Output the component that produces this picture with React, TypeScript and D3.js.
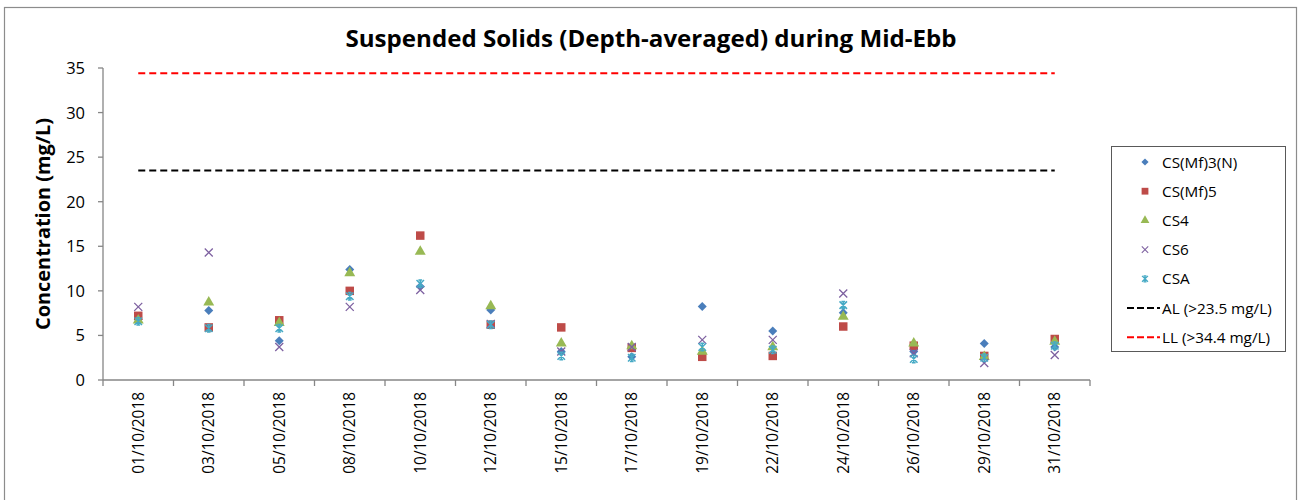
import React from "react";
import * as d3 from "d3";

const dates = ["01/10/2018","03/10/2018","05/10/2018","08/10/2018","10/10/2018","12/10/2018","15/10/2018","17/10/2018","19/10/2018","22/10/2018","24/10/2018","26/10/2018","29/10/2018","31/10/2018"];
const csMf3N = [6.8, 7.8, 4.4, 12.4, 10.5, 7.85, 3.2, 2.6, 8.25, 5.5, 7.55, 3.2, 4.1, 3.7];
const csMf5 = [7.2, 5.9, 6.7, 10.0, 16.2, 6.2, 5.9, 3.6, 2.6, 2.7, 6.0, 3.85, 2.7, 4.6];
const cs4 = [6.7, 8.7, 6.4, 12.0, 14.4, 8.3, 4.1, 3.8, 3.2, 3.7, 7.1, 4.1, 2.6, 4.3];
const cs6 = [8.2, 14.3, 3.7, 8.2, 10.1, 6.3, 3.2, 3.7, 4.5, 4.5, 9.7, 3.0, 1.9, 2.8];
const csa = [6.6, 5.8, 5.8, 9.4, 10.8, 6.2, 2.7, 2.5, 3.7, 3.4, 8.4, 2.35, 2.5, 3.85];
const alLimit = 23.5;
const llLimit = 34.4;
const yTicks = [0, 5, 10, 15, 20, 25, 30, 35];
const seriesNames = ["CS(Mf)3(N)", "CS(Mf)5", "CS4", "CS6", "CSA"];
const lineNames = ["AL (>23.5 mg/L)", "LL (>34.4 mg/L)"];

const FONT = "'Open Sans', 'DejaVu Sans', sans-serif";

const symDiamond = {
  draw(ctx: any, size: number) {
    const r = Math.sqrt(size / 2);
    ctx.moveTo(0, -r); ctx.lineTo(r, 0); ctx.lineTo(0, r); ctx.lineTo(-r, 0); ctx.closePath();
  },
};
const symX = {
  draw(ctx: any, size: number) {
    const r = Math.sqrt(size) / 2;
    ctx.moveTo(-r, -r); ctx.lineTo(r, r);
    ctx.moveTo(-r, r); ctx.lineTo(r, -r);
  },
};
const symStar = {
  draw(ctx: any, size: number) {
    const r = Math.sqrt(size) / 2;
    ctx.moveTo(-r, -r); ctx.lineTo(r, r);
    ctx.moveTo(-r, r); ctx.lineTo(r, -r);
    ctx.moveTo(0, -r); ctx.lineTo(0, r);
    ctx.moveTo(-r * 0.5, -r); ctx.lineTo(r * 0.5, -r);
    ctx.moveTo(-r * 0.5, r); ctx.lineTo(r * 0.5, r);
  },
};

export default function App() {
  const W = 1299, H = 500;
  const left = 103, right = 1090, top = 68, bottom = 380;
  const x = d3.scaleBand<string>().domain(dates).range([left, right]);
  const y = d3.scaleLinear().domain([0, 35]).range([bottom, top]);
  const cx = (d: string) => (x(d) as number) + x.bandwidth() / 2;

  const series = [
    { name: seriesNames[0], data: csMf3N, fill: "#4A7EBB", stroke: "none", sym: d3.symbol().type(symDiamond as any).size(40)(), sw: 0 },
    { name: seriesNames[1], data: csMf5, fill: "#BE4B48", stroke: "none", sym: d3.symbol().type(d3.symbolSquare).size(72)(), sw: 0 },
    { name: seriesNames[2], data: cs4, fill: "#98B954", stroke: "none", sym: d3.symbol().type(d3.symbolTriangle).size(52)(), sw: 0 },
    { name: seriesNames[3], data: cs6, fill: "none", stroke: "#7D60A0", sym: d3.symbol().type(symX as any).size(64)(), sw: 1.3 },
    { name: seriesNames[4], data: csa, fill: "none", stroke: "#46AAC5", sym: d3.symbol().type(symStar as any).size(56)(), sw: 1.5 },
  ];

  const line = d3.line<[number, number]>().x((d) => d[0]).y((d) => d[1]);
  const first = cx(dates[0]);
  const last = cx(dates[dates.length - 1]);
  const limits = [
    { name: lineNames[0], v: alLimit, color: "#000000" },
    { name: lineNames[1], v: llLimit, color: "#FF0000" },
  ];

  const axisColor = "#868686";
  const legX = 1111, legY = 146, legW = 174, legH = 205;
  const rowY = (i: number) => 162 + i * 29.2;

  return (
    <svg width={W} height={H} style={{ position: "absolute", left: 0, top: 0, background: "#fff" }} fontFamily={FONT}>
      <rect x={0} y={0} width={W} height={H} fill="#fff" />
      <rect x={4.5} y={7.5} width={1292} height={520} fill="none" stroke="#8c8c8c" strokeWidth={1.2} />
      <text x={651} y={47} textAnchor="middle" fontSize={23} fontWeight="bold" fill="#000" textLength={611} lengthAdjust="spacingAndGlyphs">
        Suspended Solids (Depth-averaged) during Mid-Ebb
      </text>

      {/* y axis */}
      <line x1={left} x2={left} y1={top} y2={bottom} stroke={axisColor} strokeWidth={1.3} />
      {yTicks.map((t) => (
        <g key={t}>
          <line x1={left - 5} x2={left} y1={y(t)} y2={y(t)} stroke={axisColor} strokeWidth={1.3} />
          <text x={85} y={y(t)} dy="0.36em" textAnchor="end" fontSize={16.5} fill="#000">{t}</text>
        </g>
      ))}
      <text transform={`translate(43,${(top + bottom) / 2}) rotate(-90)`} textAnchor="middle" dy="0.35em" fontSize={20} fontWeight="bold" fill="#000" textLength={212} lengthAdjust="spacingAndGlyphs">
        Concentration (mg/L)
      </text>

      {/* x axis */}
      <line x1={left} x2={right} y1={bottom} y2={bottom} stroke={axisColor} strokeWidth={1.3} />
      {dates.map((d) => (
        <line key={"t" + d} x1={x(d) as number} x2={x(d) as number} y1={bottom} y2={bottom + 6} stroke={axisColor} strokeWidth={1.3} />
      ))}
      <line x1={right} x2={right} y1={bottom} y2={bottom + 6} stroke={axisColor} strokeWidth={1.3} />
      {dates.map((d) => (
        <text key={"l" + d} transform={`translate(${cx(d)},392) rotate(-90)`} textAnchor="end" dy="0.36em" fontSize={15.4} fill="#000">{d}</text>
      ))}

      {/* markers */}
      {series.map((s) => (
        <g key={s.name}>
          {s.data.map((v, i) => (
            <path key={i} d={s.sym as string} transform={`translate(${cx(dates[i])},${y(v)})`} fill={s.fill} stroke={s.stroke} strokeWidth={s.sw} />
          ))}
        </g>
      ))}

      {/* limit lines */}
      {limits.map((l) => (
        <path key={l.name} d={line([[first, y(l.v)], [last, y(l.v)]]) as string} stroke={l.color} strokeWidth={2} strokeDasharray="7,4" fill="none" />
      ))}

      {/* legend */}
      <rect x={legX + 0.5} y={legY + 0.5} width={legW} height={legH} fill="#fff" stroke="#595959" strokeWidth={1} />
      {series.map((s, i) => (
        <g key={"lg" + s.name}>
          <path d={s.sym as string} transform={`translate(1145,${rowY(i)}) scale(0.8)`} fill={s.fill} stroke={s.stroke} strokeWidth={s.sw} />
          <text x={1162} y={rowY(i)} dy="0.36em" fontSize={15.3} fill="#000">{s.name}</text>
        </g>
      ))}
      {limits.map((l, i) => (
        <g key={"ll" + l.name}>
          <path d={line([[1127, rowY(5 + i)], [1160, rowY(5 + i)]]) as string} stroke={l.color} strokeWidth={2} strokeDasharray="7,3" fill="none" />
          <text x={1162} y={rowY(5 + i)} dy="0.36em" fontSize={15.3} fill="#000">{l.name}</text>
        </g>
      ))}
    </svg>
  );
}
